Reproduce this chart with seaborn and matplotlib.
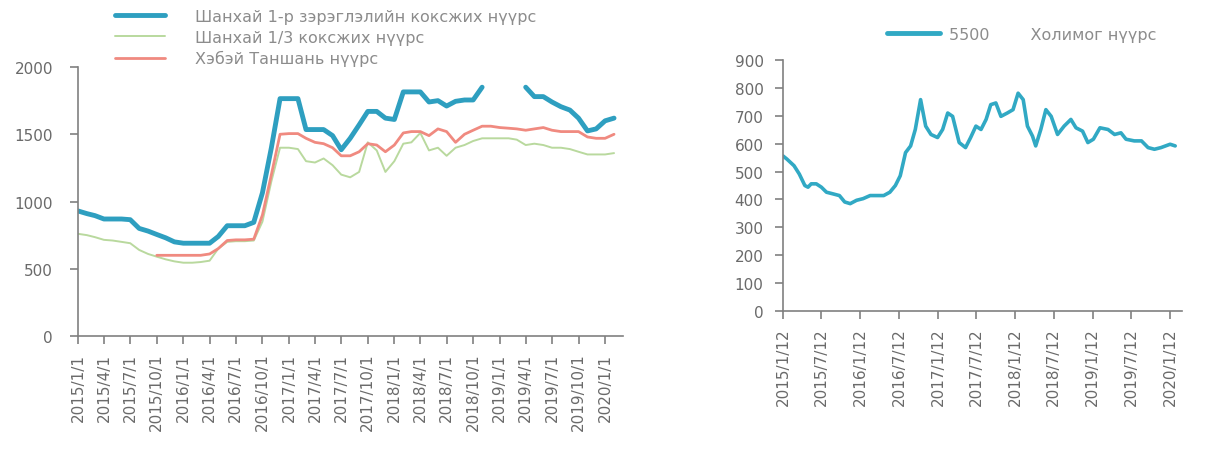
import pandas as pd
import numpy as np
import matplotlib
matplotlib.use("Agg")
import matplotlib.pyplot as plt
import seaborn as sns

sns.set_style("ticks")
plt.rcParams['font.family'] = ['DejaVu Sans']

# --- Зүүн график: сар бүрийн үнэ (2015/1 - 2020/2) ---
sarууд = pd.date_range('2015-01-01', periods=62, freq='MS')

shanghai_1 = [930, 910, 895, 870, 870, 870, 865, 800, 780, 755, 730, 700,
              690, 690, 690, 690, 740, 820, 820, 820, 845, 1065, 1400, 1765,
              1765, 1765, 1535, 1535, 1535, 1490, 1385, 1470, 1570, 1670, 1670, 1620,
              1610, 1815, 1815, 1815, 1740, 1750, 1710, 1745, 1755, 1755, 1850, np.nan,
              np.nan, np.nan, np.nan, 1850, 1780, 1780, 1740, 1705, 1680, 1620, 1525, 1540,
              1600, 1620]

shanghai_13 = [760, 750, 735, 715, 710, 700, 690, 640, 610, 590, 570, 555,
               545, 545, 550, 560, 650, 700, 705, 705, 710, 850, 1150, 1400,
               1400, 1390, 1300, 1290, 1320, 1270, 1200, 1180, 1220, 1440, 1380, 1220,
               1300, 1430, 1440, 1510, 1380, 1400, 1340, 1400, 1420, 1450, 1470, 1470,
               1470, 1470, 1460, 1420, 1430, 1420, 1400, 1400, 1390, 1370, 1350, 1350,
               1350, 1360]

hebei = [np.nan, np.nan, np.nan, np.nan, np.nan, np.nan, np.nan, np.nan, np.nan, 600, 600, 600,
         600, 600, 600, 610, 650, 710, 715, 715, 720, 900, 1200, 1500,
         1505, 1505, 1470, 1440, 1430, 1400, 1340, 1340, 1370, 1430, 1420, 1370,
         1420, 1510, 1520, 1520, 1490, 1540, 1520, 1440, 1500, 1530, 1560, 1560,
         1550, 1545, 1540, 1530, 1540, 1550, 1530, 1520, 1520, 1520, 1480, 1470,
         1470, 1500]

nerуд = ['Шанхай 1-р зэрэглэлийн коксжих нүүрс',
         'Шанхай 1/3 коксжих нүүрс',
         'Хэбэй Таншань нүүрс']

# --- Баруун график: 5500 холимог нүүрс ---
ognoo_5500 = ['2015-01-12', '2015-01-30', '2015-03-05', '2015-03-30', '2015-04-25', '2015-05-10',
              '2015-05-25', '2015-06-18', '2015-07-12', '2015-08-05', '2015-09-05', '2015-10-05',
              '2015-10-30', '2015-11-25', '2015-12-25', '2016-01-25', '2016-02-27', '2016-03-28',
              '2016-05-01', '2016-05-30', '2016-06-25', '2016-07-18', '2016-08-12', '2016-09-05',
              '2016-09-27', '2016-10-22', '2016-11-15', '2016-12-10', '2017-01-10', '2017-02-03',
              '2017-02-27', '2017-03-22', '2017-04-22', '2017-05-22', '2017-06-15', '2017-07-10',
              '2017-08-03', '2017-08-27', '2017-09-18', '2017-10-12', '2017-11-05', '2017-12-05',
              '2018-01-01', '2018-01-25', '2018-02-18', '2018-03-10', '2018-04-03', '2018-04-18',
              '2018-05-12', '2018-06-05', '2018-06-30', '2018-07-30', '2018-08-30', '2018-10-01',
              '2018-10-25', '2018-11-25', '2018-12-20', '2019-01-15', '2019-02-15', '2019-03-25',
              '2019-04-25', '2019-05-25', '2019-06-18', '2019-07-27', '2019-08-30', '2019-09-30',
              '2019-10-30', '2019-11-30', '2020-01-12', '2020-02-05']
une_5500 = [556, 545, 521, 491, 450, 444,
            456, 456, 444, 426, 420, 414,
            391, 385, 397, 403, 414, 414,
            414, 426, 450, 485, 568, 592,
            651, 758, 663, 633, 622, 651,
            710, 698, 604, 586, 622, 663,
            651, 687, 740, 746, 698, 710,
            722, 781, 758, 663, 627, 592,
            651, 722, 698, 633, 663, 687,
            657, 645, 604, 616, 657, 651,
            633, 639, 616, 610, 610, 586,
            580, 586, 598, 592]

# Өгөгдлийн хүснэгт
df_zuun = pd.DataFrame({'ognoo': sarууд, nerуд[0]: shanghai_1,
                        nerуд[1]: shanghai_13, nerуд[2]: hebei})
df_zuun['seg'] = df_zuun[nerуд[0]].isna().cumsum()  # цэнхэр шугамын тасархай хэсэг
df_baruun = pd.DataFrame({'ognoo': pd.to_datetime(ognoo_5500), 'une': une_5500})

fig = plt.figure(figsize=(12.05, 4.52), dpi=100)
ax1 = fig.add_axes([0.0647, 0.2544, 0.4523, 0.5951])
ax2 = fig.add_axes([0.6498, 0.3097, 0.3311, 0.5553])

tsenher = '#2e9fc0'
nogoon = '#b9d99e'
ulaan = '#f08a80'
saaral = '#6a6a6a'

d1 = df_zuun.dropna(subset=[nerуд[0]])
sns.lineplot(data=d1, x='ognoo', y=nerуд[0], units='seg', estimator=None,
             color=tsenher, linewidth=3.5, ax=ax1)
sns.lineplot(data=df_zuun, x='ognoo', y=nerуд[1], color=nogoon, linewidth=1.4, ax=ax1)
sns.lineplot(data=df_zuun.dropna(subset=[nerуд[2]]), x='ognoo', y=nerуд[2],
             color=ulaan, linewidth=2.0, ax=ax1)

sns.lineplot(data=df_baruun, x='ognoo', y='une', color='#31a9c4', linewidth=2.6, ax=ax2)

# Тэнхлэгүүд
tick1 = pd.date_range('2015-01-01', '2020-01-01', freq='3MS')
ax1.set_xticks(tick1)
ax1.set_xticklabels([f'{d.year}/{d.month}/{d.day}' for d in tick1], rotation=90)
ax1.set_xlim(pd.Timestamp('2015-01-01'), pd.Timestamp('2020-03-03'))
ax1.set_ylim(0, 2000)
ax1.set_yticks([0, 500, 1000, 1500, 2000])

tick2 = [pd.Timestamp(y, m, 12) for y in range(2015, 2021) for m in (1, 7)][:-1]
ax2.set_xticks(tick2)
ax2.set_xticklabels([f'{d.year}/{d.month}/{d.day}' for d in tick2], rotation=90)
ax2.set_xlim(pd.Timestamp('2015-01-12'), pd.Timestamp('2020-03-08'))
ax2.set_ylim(0, 900)
ax2.set_yticks(range(0, 901, 100))

for ax, ypad in ((ax1, 12), (ax2, 8)):
    ax.set_xlabel('')
    ax.set_ylabel('')
    sns.despine(ax=ax)
    for s in ('left', 'bottom'):
        ax.spines[s].set_color('#808080')
        ax.spines[s].set_linewidth(1.2)
    ax.tick_params(axis='both', colors='#808080', labelcolor=saaral, labelsize=11,
                   length=6, width=1.2)
    ax.tick_params(axis='y', pad=ypad)
    ax.tick_params(axis='x', pad=6)

# Тайлбар
h1 = [plt.Line2D([], [], color=tsenher, lw=3.5),
      plt.Line2D([], [], color=nogoon, lw=1.4),
      plt.Line2D([], [], color=ulaan, lw=2.0)]
fig.legend(h1, nerуд, loc='upper left', bbox_to_anchor=(115 / 1205, 1 - 10 / 452),
           frameon=False, fontsize=11.5, handlelength=3.1, handletextpad=1.9,
           labelspacing=0.35, borderpad=0, borderaxespad=0, labelcolor='#8c8c8c')

h2 = [plt.Line2D([], [], color='#31a9c4', lw=3.5)]
fig.legend(h2, ['5500        Холимог нүүрс'], loc='upper left',
           bbox_to_anchor=(887 / 1205, 1 - 28 / 452), frameon=False, fontsize=11.5,
           handlelength=3.3, handletextpad=0.6, borderpad=0, borderaxespad=0,
           labelcolor='#8c8c8c')

fig.savefig('out.png', dpi=100, facecolor='white')
